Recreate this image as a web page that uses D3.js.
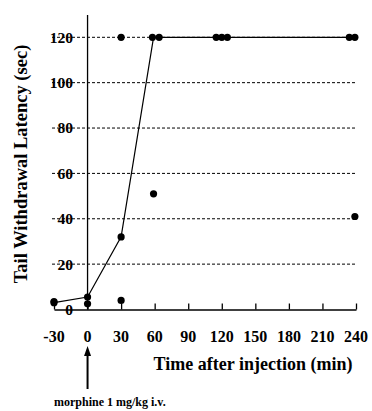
<!DOCTYPE html>
<html>
<head>
<meta charset="utf-8">
<script src="https://cdn.jsdelivr.net/npm/d3@7"></script>
<style>
  body { margin: 0; background: #fff; }
  svg { display: block; font-family: 'Liberation Serif', 'Times New Roman', serif; font-weight: bold; }
</style>
</head>
<body>
<svg id="chart" width="372" height="411"></svg>
<script>
// individual animals
const dotTimes = [-30, -30, 0, 0, 30, 30, 30, 58, 64, 59, 115, 120, 125, 234, 239, 239];
const dotValues = [3, 3.5, 2.5, 5.5, 120, 4, 32, 120, 120, 51, 120, 120, 120, 120, 120, 41];

// median line
const lineTimes = [-30, 0, 30, 59, 240];
const lineValues = [3, 5.5, 32, 120, 120];

const xTicks = [-30, 0, 30, 60, 90, 120, 150, 180, 210, 240];
const yTicks = [0, 20, 40, 60, 80, 100, 120];

const svg = d3.select('#chart');

const x = d3.scaleLinear().domain([-30, 240]).range([54, 356]);
const y = d3.scaleLinear().domain([0, 120]).range([309.5, 37.3]);

// dashed grid lines
svg.append('g')
  .selectAll('line')
  .data(yTicks.filter(function(d) { return d > 0; }))
  .enter()
  .append('line')
  .attr('x1', 52)
  .attr('x2', 355)
  .attr('y1', function(d) { return y(d); })
  .attr('y2', function(d) { return y(d); })
  .attr('stroke', '#000')
  .attr('stroke-width', 1)
  .attr('stroke-dasharray', '3,2');

// y labels
svg.append('g')
  .selectAll('text')
  .data(yTicks)
  .enter()
  .append('text')
  .attr('x', 73)
  .attr('y', function(d) { return y(d); })
  .attr('dy', '0.35em')
  .attr('text-anchor', 'end')
  .attr('font-size', 15.5)
  .text(function(d) { return d; });

// y axis line at time 0
svg.append('line')
  .attr('x1', x(0)).attr('x2', x(0))
  .attr('y1', 15).attr('y2', y(0))
  .attr('stroke', '#000')
  .attr('stroke-width', 1.3);

// x axis, ticks pointing up
const xAxis = d3.axisTop(x)
  .tickValues(xTicks)
  .tickSize(6)
  .tickSizeOuter(0)
  .tickFormat('');

const gx = svg.append('g')
  .attr('transform', 'translate(0,' + y(0) + ')')
  .call(xAxis);
gx.selectAll('path, line').attr('stroke', '#000').attr('stroke-width', 1.3);

svg.append('g')
  .selectAll('text')
  .data(xTicks)
  .enter()
  .append('text')
  .attr('x', function(d) { return x(d); })
  .attr('y', 342)
  .attr('text-anchor', 'middle')
  .attr('font-size', 16)
  .text(function(d) { return d; });

// median line
const lineData = lineTimes.map(function(t, i) { return [t, lineValues[i]]; });
svg.append('path')
  .datum(lineData)
  .attr('fill', 'none')
  .attr('stroke', '#000')
  .attr('stroke-width', 1.2)
  .attr('d', d3.line()
    .x(function(d) { return x(d[0]); })
    .y(function(d) { return y(d[1]); }));

// dots
svg.append('g')
  .selectAll('circle')
  .data(dotTimes)
  .enter()
  .append('circle')
  .attr('cx', function(d) { return x(d); })
  .attr('cy', function(d, i) { return y(dotValues[i]); })
  .attr('r', 3.6)
  .attr('fill', '#000');

// axis titles
svg.append('text')
  .attr('transform', 'translate(27,164) rotate(-90)')
  .attr('text-anchor', 'middle')
  .attr('font-size', 18.5)
  .text('Tail Withdrawal Latency (sec)');

svg.append('text')
  .attr('x', 253)
  .attr('y', 370)
  .attr('text-anchor', 'middle')
  .attr('font-size', 18)
  .text('Time after injection (min)');

// injection arrow
svg.append('line')
  .attr('x1', x(0)).attr('x2', x(0))
  .attr('y1', 389).attr('y2', 354)
  .attr('stroke', '#000')
  .attr('stroke-width', 2);
svg.append('path')
  .attr('d', 'M' + (x(0) - 3.5) + ',356 L' + x(0) + ',346 L' + (x(0) + 3.5) + ',356 Z')
  .attr('fill', '#000');

svg.append('text')
  .attr('x', 54)
  .attr('y', 406)
  .attr('font-size', 12)
  .text('morphine 1 mg/kg i.v.');
</script>
</body>
</html>
